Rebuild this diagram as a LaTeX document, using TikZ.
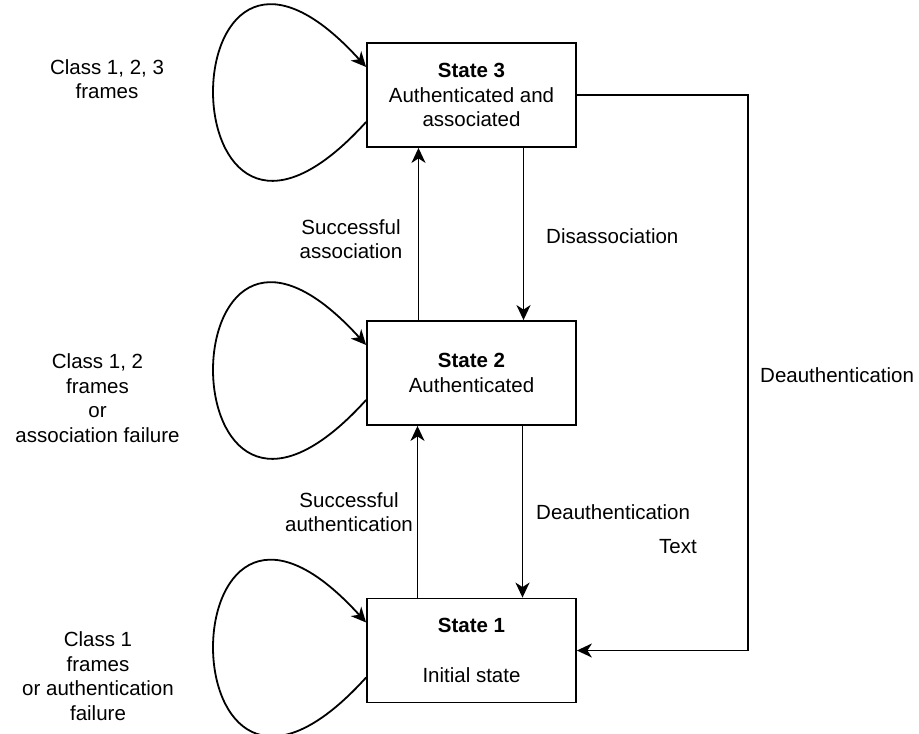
\documentclass[tikz,border=0pt]{standalone}
\usepackage{fontspec}
\setmainfont{Liberation Sans}
\usetikzlibrary{arrows.meta,calc}
\begin{document}
\begin{tikzpicture}[x=1pt,y=-1pt,
  every node/.style={font=\fontsize{20.5pt}{24.6pt}\selectfont},
  statebox/.style={draw, rectangle, line width=1.8pt, minimum width=209pt, minimum height=104pt, align=center, inner sep=0pt},
  lbl/.style={align=center, inner sep=0pt},
  arr/.style={line width=1.8pt, -{Stealth[length=15pt,width=14pt,inset=4.5pt]}},
  loopline/.style={line width=1.8pt, -{Stealth[length=15pt,width=14pt,inset=4.5pt]}}
]
\useasboundingbox (0,0) rectangle (919,734);

% states
\node[statebox] (s3) at (471.5,95) {\textbf{State 3}\\Authenticated and\\associated};
\node[statebox] (s2) at (471.5,373) {\textbf{State 2}\\Authenticated};
\node[statebox] (s1) at (471.5,650.5) {\textbf{State 1}\\[24.6pt]Initial state};

% self loops
\foreach \s in {s3,s2,s1}{
  \coordinate (\s out) at ($(\s.west)+(0,27)$);
  \coordinate (\s in) at ($(\s.west)+(0,-28)$);
  \draw[loopline] (\s out) .. controls ($(\s out)+(-203,224)$) and ($(\s in)+(-203,-224)$) .. (\s in);
}

% vertical transitions
\draw[arr] ([xshift=-53pt]s2.north) -- ([xshift=-53pt]s3.south);
\draw[arr] ([xshift=52pt]s3.south) -- ([xshift=52pt]s2.north);
\draw[arr] ([xshift=-54pt]s1.north) -- ([xshift=-54pt]s2.south);
\draw[arr] ([xshift=51pt]s2.south) -- ([xshift=51pt]s1.north);

% deauthentication from state 3 to state 1
\coordinate (rc) at (748,0);
\draw[arr] (s3.east) -- (s3.east -| rc) -- (s1.east -| rc) -- (s1.east);

% loop labels
\node[lbl] (l3) at (107,79) {Class 1, 2, 3\\frames};
\node[lbl] (l2) at (97.5,398) {Class 1, 2\\frames\\or\\association failure};
\node[lbl] (l1) at (98,676) {Class 1\\frames\\or authentication\\failure};

% edge labels
\node[lbl] (ea) at (351,239) {Successful\\association};
\node[lbl, anchor=west] (ed) at (546,236) {Disassociation};
\node[lbl] (eb) at (349,512) {Successful\\authentication};
\node[lbl, anchor=west] (ec) at (536,512) {Deauthentication};
\node[lbl] (et) at (678,547) {Text};
\node[lbl, anchor=west] (er) at (760,375) {Deauthentication};
\end{tikzpicture}
\end{document}
